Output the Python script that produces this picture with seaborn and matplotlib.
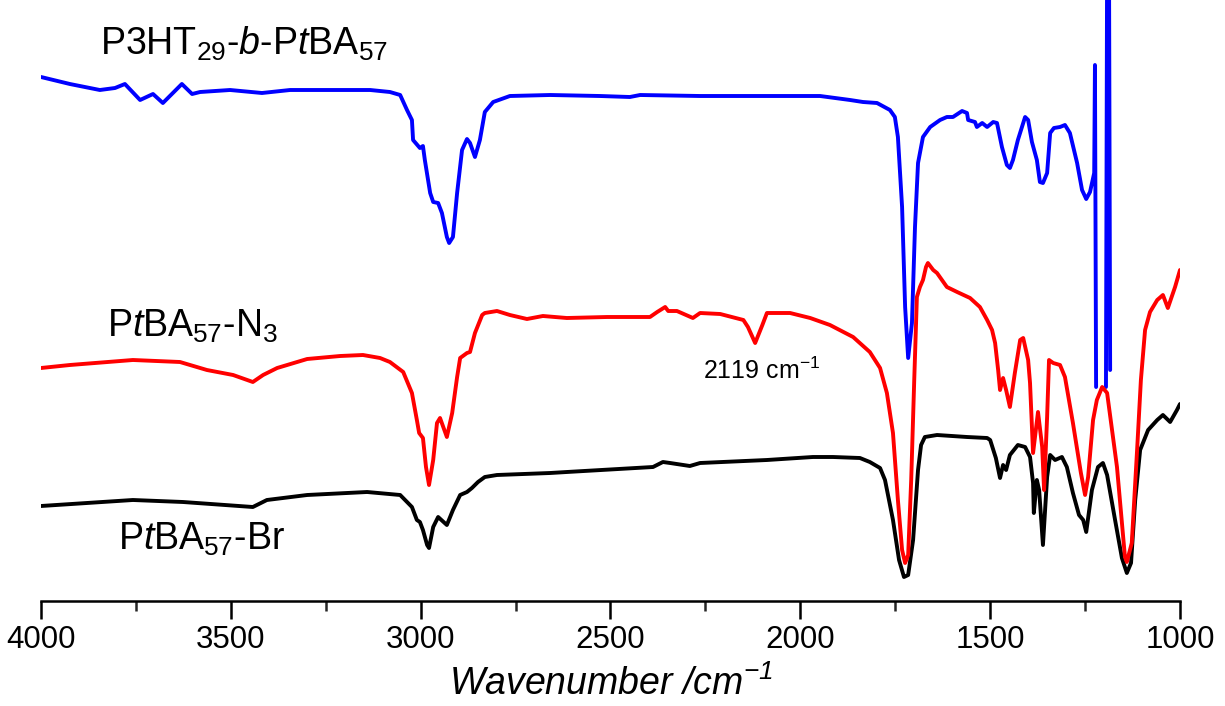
import pandas as pd
import matplotlib
matplotlib.use("Agg")
import matplotlib.pyplot as plt
from matplotlib.ticker import MultipleLocator
import seaborn as sns

# FTIR spectra: (wavenumber in cm-1, offset signal in a.u.)
# P3HT29-b-PtBA57 (blue); the trace has an artefact near 1200 cm-1 and is drawn in two pieces
p3ht_main = [(4000, 524), (3924, 517), (3845, 511), (3805, 513), (3779, 517), (3739, 501),
             (3705, 507), (3679, 498), (3629, 517), (3602, 507), (3581, 509), (3502, 511),
             (3418, 508), (3344, 511), (3239, 511), (3133, 511), (3081, 509), (3054, 506),
             (3036, 491), (3023, 481), (3020, 461), (3002, 453), (2994, 455), (2989, 441),
             (2975, 408), (2967, 399), (2954, 398), (2944, 388), (2931, 364), (2925, 358),
             (2915, 364), (2904, 408), (2891, 451), (2878, 462), (2870, 458), (2857, 444),
             (2844, 461), (2831, 489), (2809, 499), (2765, 505), (2659, 506), (2528, 505),
             (2449, 504), (2422, 506), (2264, 505), (2106, 505), (1948, 505), (1869, 501),
             (1835, 499), (1798, 498), (1764, 491), (1751, 484), (1743, 464), (1732, 394),
             (1724, 294), (1716, 243), (1706, 278), (1698, 374), (1690, 438), (1677, 464),
             (1658, 474), (1632, 481), (1614, 484), (1598, 484), (1574, 490), (1561, 488),
             (1558, 481), (1540, 479), (1535, 474), (1521, 478), (1508, 474), (1492, 479),
             (1482, 478), (1469, 454), (1456, 436), (1448, 433), (1440, 441), (1427, 461),
             (1408, 484), (1400, 481), (1390, 459), (1377, 441), (1369, 419), (1361, 418),
             (1350, 428), (1342, 468), (1332, 473), (1316, 474), (1303, 476), (1290, 468),
             (1271, 438), (1258, 411), (1247, 402), (1237, 409), (1226, 428), (1224, 536),
             (1221, 214)]
p3ht_tail = [(1195, 214), (1192, 641), (1187, 641), (1184, 231)]

# PtBA57-N3 (red)
n3_points = [(4000, 233), (3924, 236), (3758, 241), (3634, 239), (3563, 231), (3494, 226),
             (3442, 219), (3415, 226), (3378, 233), (3299, 242), (3212, 245), (3152, 246),
             (3107, 243), (3081, 239), (3046, 229), (3023, 208), (3010, 181), (3004, 168),
             (2994, 163), (2986, 134), (2978, 116), (2967, 141), (2957, 178), (2949, 183),
             (2931, 164), (2917, 188), (2904, 224), (2896, 243), (2878, 248), (2870, 249),
             (2857, 268), (2838, 286), (2831, 288), (2799, 290), (2765, 286), (2720, 282),
             (2678, 285), (2615, 283), (2509, 284), (2396, 284), (2377, 289), (2356, 294),
             (2348, 290), (2325, 290), (2283, 283), (2264, 288), (2211, 287), (2150, 281),
             (2138, 274), (2119, 258), (2100, 276), (2088, 288), (2061, 288), (2027, 288),
             (1974, 283), (1922, 276), (1861, 264), (1817, 249), (1790, 233), (1772, 208),
             (1756, 168), (1743, 101), (1732, 51), (1724, 38), (1716, 46), (1708, 121),
             (1700, 221), (1693, 304), (1685, 314), (1677, 321), (1669, 334), (1664, 338),
             (1650, 331), (1640, 328), (1614, 314), (1587, 309), (1553, 303), (1527, 294),
             (1508, 281), (1495, 271), (1487, 258), (1479, 231), (1474, 211), (1466, 223),
             (1458, 211), (1448, 194), (1435, 228), (1421, 261), (1413, 263), (1400, 241),
             (1395, 218), (1387, 148), (1374, 189), (1363, 154), (1358, 111), (1350, 184),
             (1345, 241), (1334, 238), (1316, 236), (1303, 224), (1282, 178), (1261, 128),
             (1250, 106), (1242, 124), (1229, 181), (1219, 201), (1205, 214), (1192, 208),
             (1166, 134), (1145, 44), (1140, 39), (1127, 58), (1113, 151), (1103, 221),
             (1092, 271), (1079, 289), (1060, 301), (1045, 306), (1032, 293), (1013, 314),
             (1000, 331)]

# PtBA57-Br (black)
br_points = [(4000, 95), (3758, 101), (3626, 99), (3442, 94), (3405, 101), (3299, 106),
             (3141, 109), (3054, 106), (3023, 94), (3010, 81), (3002, 79), (2994, 71),
             (2983, 56), (2978, 53), (2967, 74), (2954, 84), (2931, 76), (2915, 91),
             (2896, 106), (2878, 109), (2865, 113), (2849, 119), (2831, 124), (2799, 126),
             (2659, 128), (2615, 129), (2388, 134), (2362, 139), (2343, 138), (2291, 135),
             (2264, 138), (2088, 141), (1967, 144), (1914, 144), (1843, 143), (1817, 139),
             (1790, 133), (1777, 121), (1756, 81), (1740, 41), (1727, 24), (1716, 26),
             (1703, 61), (1690, 131), (1682, 156), (1672, 164), (1640, 166), (1561, 164),
             (1508, 163), (1500, 161), (1485, 143), (1474, 123), (1466, 136), (1458, 131),
             (1448, 146), (1427, 156), (1408, 154), (1395, 144), (1387, 118), (1385, 88),
             (1377, 121), (1371, 111), (1361, 56), (1350, 124), (1342, 146), (1329, 141),
             (1311, 144), (1298, 134), (1282, 108), (1266, 86), (1255, 81), (1247, 69),
             (1232, 111), (1216, 134), (1203, 138), (1192, 126), (1171, 81), (1153, 43),
             (1140, 28), (1129, 38), (1118, 101), (1105, 151), (1084, 171), (1060, 181),
             (1045, 186), (1026, 179), (1008, 191), (1000, 197)]

sample_order = ["PtBA57-Br", "P3HT29-b-PtBA57", "PtBA57-N3"]
sample_colors = ["#000000", "#0000ff", "#ff0000"]

# one row per point, 'segment' keeps the broken blue trace from being joined
pieces = [("PtBA57-Br", "br", br_points),
          ("P3HT29-b-PtBA57", "p3ht-a", p3ht_main),
          ("P3HT29-b-PtBA57", "p3ht-b", p3ht_tail),
          ("PtBA57-N3", "n3", n3_points)]
frames = []
for sample, seg, pts in pieces:
    d = pd.DataFrame(pts, columns=["wavenumber", "signal"])
    d["sample"] = sample
    d["segment"] = seg
    frames.append(d)
spectra = pd.concat(frames, ignore_index=True)

sns.set_style("white")
plt.rcParams["font.family"] = ["Liberation Sans", "DejaVu Sans"]
plt.rcParams["mathtext.fontset"] = "custom"
plt.rcParams["mathtext.rm"] = "Liberation Sans"
plt.rcParams["mathtext.it"] = "Liberation Sans:italic"
plt.rcParams["mathtext.default"] = "regular"
plt.rcParams["text.color"] = "black"
plt.rcParams["axes.labelcolor"] = "black"

fig = plt.figure(figsize=(12.25, 7.06), dpi=100)
ax = fig.add_axes([41 / 1225, 105 / 706, 1139 / 1225, 601 / 706])

sns.lineplot(data=spectra, x="wavenumber", y="signal", hue="sample",
             hue_order=sample_order, palette=sample_colors, units="segment",
             estimator=None, sort=False, linewidth=2.8, legend=False, ax=ax)

ax.set_xlim(4000, 1000)
ax.set_ylim(0, 601)
ax.set_yticks([])
ax.set_ylabel("")
for side in ["left", "top", "right"]:
    ax.spines[side].set_visible(False)
ax.spines["bottom"].set_linewidth(1.8)
ax.spines["bottom"].set_color("black")

ax.xaxis.set_major_locator(MultipleLocator(500))
ax.xaxis.set_minor_locator(MultipleLocator(250))
ax.tick_params(axis="x", which="major", bottom=True, direction="out", length=13,
               width=1.8, labelsize=22.5, pad=4, colors="black")
ax.tick_params(axis="x", which="minor", bottom=True, direction="out", length=7,
               width=1.8)
ax.set_xlabel("Wavenumber /cm$^{-1}$", fontsize=27, fontstyle="italic", labelpad=8)

# sample labels and the azide band note
ax.text(3845, 546, r"P3HT$_{29}$-$\mathit{b}$-P$\mathit{t}$BA$_{57}$", fontsize=27,
        ha="left", va="baseline")
ax.text(3826, 264, r"P$\mathit{t}$BA$_{57}$-N$_{3}$", fontsize=27, ha="left", va="baseline")
ax.text(3797, 51, r"P$\mathit{t}$BA$_{57}$-Br", fontsize=27, ha="left", va="baseline")
ax.text(2256, 222, r"2119 cm$^{-1}$", fontsize=18, ha="left", va="baseline")

fig.savefig("out.png", dpi=100)
